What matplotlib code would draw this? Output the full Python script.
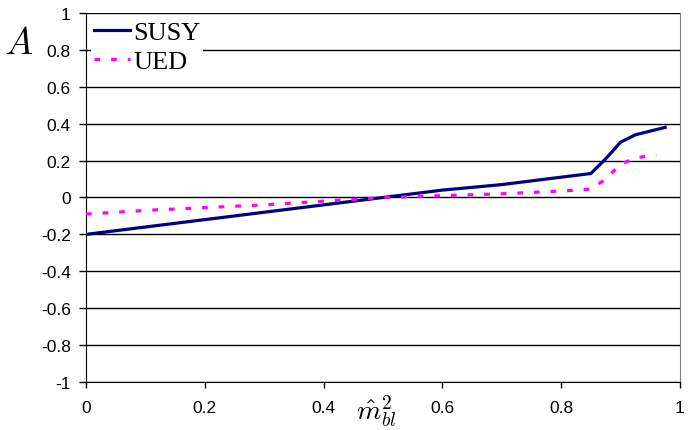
import matplotlib
matplotlib.use('Agg')
import matplotlib.pyplot as plt

# asymmetry A vs m_bl^2 for the two models
susy_x = [0, 0.1, 0.2, 0.3, 0.4, 0.5, 0.6, 0.7, 0.8, 0.85, 0.875, 0.9, 0.925, 0.95, 0.975]
susy_y = [-0.20, -0.16, -0.12, -0.08, -0.04, 0.00, 0.04, 0.07, 0.11, 0.13, 0.21, 0.30, 0.34, 0.36, 0.38]

ued_x = [0, 0.1, 0.2, 0.3, 0.4, 0.5, 0.6, 0.7, 0.8, 0.85, 0.875, 0.9, 0.925, 0.96]
ued_y = [-0.09, -0.07, -0.055, -0.04, -0.02, 0.00, 0.01, 0.02, 0.035, 0.045, 0.10, 0.18, 0.215, 0.23]

x_ticks = [0, 0.2, 0.4, 0.6, 0.8, 1]
x_labels = ['0', '0.2', '0.4', '0.6', '0.8', '1']
y_ticks = [-1, -0.8, -0.6, -0.4, -0.2, 0, 0.2, 0.4, 0.6, 0.8, 1]
y_labels = ['-1', '-0.8', '-0.6', '-0.4', '-0.2', '0', '0.2', '0.4', '0.6', '0.8', '1']

plt.rcParams['mathtext.fontset'] = 'cm'
plt.rcParams['axes.unicode_minus'] = False

fig = plt.figure(figsize=(6.9, 4.31), dpi=100)
ax = fig.add_axes([0.1246, 0.1114, 0.8609, 0.8561])

ax.plot(susy_x, susy_y, color='#000080', lw=2.3, label='SUSY', zorder=3)
ax.plot(ued_x, ued_y, color='#FF00FF', lw=2.3, dashes=(1.8, 3.4), label='UED', zorder=3)

ax.set_xlim(0, 1)
ax.set_ylim(-1, 1)
ax.set_xticks(x_ticks)
ax.set_xticklabels(x_labels, fontsize=12.5, family='Liberation Sans')
ax.set_yticks(y_ticks)
ax.set_yticklabels(y_labels, fontsize=12.5, family='Liberation Sans')
ax.tick_params(axis='y', length=5, width=1, pad=6)
ax.tick_params(axis='x', length=4, width=1, pad=9)

ax.yaxis.grid(True, color='black', lw=1)
ax.set_axisbelow(True)
ax.spines['top'].set_visible(False)
ax.spines['right'].set_color('#808080')
ax.spines['left'].set_color('black')
ax.spines['bottom'].set_color('black')

leg = ax.legend(loc='upper left', bbox_to_anchor=(0.0, 1.0), frameon=True,
                prop={'family': 'Liberation Serif', 'size': 19},
                handlelength=1.35, handletextpad=0.15, labelspacing=0.2,
                borderpad=0.1, borderaxespad=0.2)
leg.get_frame().set_edgecolor('none')
leg.get_frame().set_facecolor('white')
leg.get_frame().set_alpha(1)

fig.text(0.027, 0.897, r'$A$', fontsize=27, ha='center', va='center')
ax.text(0.49, -0.075, r'$\hat{m}_{bl}^2$', fontsize=20, ha='center', va='center',
        transform=ax.transAxes)

plt.savefig('out.png', dpi=100)
